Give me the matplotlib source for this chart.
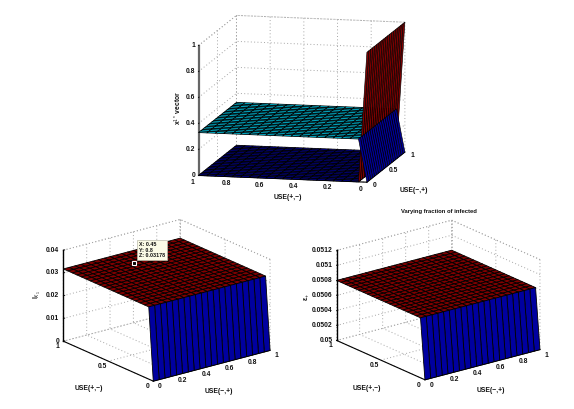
import numpy as np
import matplotlib
matplotlib.use('Agg')
import matplotlib.pyplot as plt
from matplotlib import cm
from mpl_toolkits.mplot3d import proj3d

plt.rcParams['font.family'] = ['Liberation Sans', 'DejaVu Sans']
plt.rcParams['mathtext.fontset'] = 'custom'
plt.rcParams['mathtext.rm'] = 'Liberation Sans'
plt.rcParams['mathtext.it'] = 'Liberation Sans:italic'
plt.rcParams['mathtext.bf'] = 'Liberation Sans:bold'

W_PX, H_PX = 574, 409
GRID = '#a6a6a6'
DOTS = (0, (1, 2.4))
FS = 4.9

# grid of both USE axes
use_pm = [0, 0.05, 0.1, 0.15, 0.2, 0.25, 0.3, 0.35, 0.4, 0.45, 0.5,
          0.55, 0.6, 0.65, 0.7, 0.75, 0.8, 0.85, 0.9, 0.95, 1]
use_mp = [0, 0.05, 0.1, 0.15, 0.2, 0.25, 0.3, 0.35, 0.4, 0.45, 0.5,
          0.55, 0.6, 0.65, 0.7, 0.75, 0.8, 0.85, 0.9, 0.95, 1]

# values along USE(+,-), same for every USE(-,+)
x1_upper = [0, 0.33, 0.33, 0.33, 0.33, 0.33, 0.33, 0.33, 0.33, 0.33, 0.33,
            0.33, 0.33, 0.33, 0.33, 0.33, 0.33, 0.33, 0.33, 0.33, 0.33]
x1_lower = [1, 0, 0, 0, 0, 0, 0, 0, 0, 0, 0,
            0, 0, 0, 0, 0, 0, 0, 0, 0, 0]
left_z = [0, 0.03178, 0.03178, 0.03178, 0.03178, 0.03178, 0.03178, 0.03178, 0.03178, 0.03178, 0.03178,
          0.03178, 0.03178, 0.03178, 0.03178, 0.03178, 0.03178, 0.03178, 0.03178, 0.03178, 0.03178]
right_z = [0.05, 0.0508, 0.0508, 0.0508, 0.0508, 0.0508, 0.0508, 0.0508, 0.0508, 0.0508, 0.0508,
           0.0508, 0.0508, 0.0508, 0.0508, 0.0508, 0.0508, 0.0508, 0.0508, 0.0508, 0.0508]

top_pm_ticks = [0, 0.2, 0.4, 0.6, 0.8, 1]
top_mp_ticks = [0, 0.5, 1]
top_z_ticks = [0, 0.2, 0.4, 0.6, 0.8, 1]
low_pm_ticks = [0, 0.5, 1]
low_mp_ticks = [0, 0.2, 0.4, 0.6, 0.8, 1]
left_z_ticks = [0, 0.01, 0.02, 0.03, 0.04]
right_z_ticks = [0.05, 0.0502, 0.0504, 0.0506, 0.0508, 0.051, 0.0512]


def make_axes(cx, cy, s, sz, elev, azim):
    # place a 3d box so its centre lands on pixel cx, cy with given edge sizes
    k = sz / s
    unit = 1.9057 / np.sqrt(2 + k * k)
    w = s / (unit * 0.5405)
    ax = fig.add_axes([(cx - 0.5135 * w) / W_PX, (H_PX - cy - 0.5135 * w) / H_PX,
                       w / W_PX, w / H_PX], projection='3d', proj_type='ortho',
                      computed_zorder=False)
    ax.set_box_aspect((1, 1, k))
    ax.view_init(elev=elev, azim=azim)
    ax.patch.set_alpha(0)
    return ax


def style_axes(ax, zlim, xticks, yticks, zticks, z_color='black', z_lw=1.0):
    ax.set_xlim(0, 1)
    ax.set_ylim(0, 1)
    ax.set_zlim(*zlim)
    ax.set_xticks(xticks)
    ax.set_yticks(yticks)
    ax.set_zticks(zticks)
    for axis in (ax.xaxis, ax.yaxis, ax.zaxis):
        axis.pane.set_visible(False)
        axis.line.set_color((0, 0, 0, 0))
        axis.set_ticklabels([])
        axis._axinfo['tick']['inward_factor'] = 0
        axis._axinfo['tick']['outward_factor'] = 0
        axis._axinfo['grid'].update(color=GRID, linestyle=DOTS, linewidth=0.7)
    z0, z1 = zlim
    # dotted top of the back walls
    ax.plot([1, 1], [0, 1], [z1, z1], color=GRID, ls=DOTS, lw=0.7, zorder=0)
    ax.plot([0, 1], [1, 1], [z1, z1], color=GRID, ls=DOTS, lw=0.7, zorder=0)
    ax.plot([1, 1], [1, 1], [z0, z1], color=GRID, ls=DOTS, lw=0.7, zorder=0)
    # solid axes
    ax.plot([0, 1], [0, 0], [z0, z0], color='black', lw=0.8, zorder=0.5)
    ax.plot([0, 0], [0, 1], [z0, z0], color='black', lw=0.8, zorder=0.5)
    ax.plot([0, 0], [1, 1], [z0, z1], color=z_color, lw=z_lw, zorder=0.5)
    for t in zticks:
        ax.plot([0, 0.012], [1, 1], [t, t], color='black', lw=0.6, zorder=0.5)


def surface(ax, profile, clim, z_sheet=1, z_wall=3, wall_lw=0.6):
    xx, yy = np.meshgrid(use_mp, use_pm)
    zz = np.tile(np.array(profile)[:, None], (1, len(use_mp)))
    colors = cm.jet((zz - clim[0]) / (clim[1] - clim[0]))
    # flat part with heavy mesh, jump at USE(+,-)=0 with its own mesh width
    ax.plot_surface(xx[1:], yy[1:], zz[1:], rstride=1, cstride=1, facecolors=colors[1:],
                    edgecolor='black', linewidth=0.6, shade=False, zorder=z_sheet)
    ax.plot_surface(xx[:2], yy[:2], zz[:2], rstride=1, cstride=1, facecolors=colors[:2],
                    edgecolor='black', linewidth=wall_lw, shade=False, zorder=z_wall)


def tick_text(ax, x, y, z, s, dx, dy, ha='center'):
    # label placed dx, dy pixels from the projected tick position (dy downwards)
    px, py, _ = proj3d.proj_transform(x, y, z, ax.get_proj())
    ax.annotate(s, xy=(px, py), xycoords='data', xytext=(dx * 0.72, -dy * 0.72),
                textcoords='offset points', fontsize=FS, fontweight='bold', color='#111111',
                ha=ha, va='center', annotation_clip=False)


def px_text(x, y, s, **kw):
    kw.setdefault('fontsize', FS)
    kw.setdefault('color', '#111111')
    kw.setdefault('ha', 'center')
    kw.setdefault('va', 'center')
    kw.setdefault('fontweight', 'bold')
    return fig.text(x / W_PX, 1 - y / H_PX, s, **kw)


def tick_labels(ax, z0, xticks, yticks, zticks, x_off, y_off, z_off):
    for t in zticks:
        tick_text(ax, 0, 1, t, f'{t:g}', z_off, 0, ha='right')
    for t in yticks:
        tick_text(ax, 0, t, z0, f'{t:g}', *y_off)
    for t in xticks:
        tick_text(ax, t, 0, z0, f'{t:g}', *x_off)


fig = plt.figure(figsize=(W_PX / 100, H_PX / 100), dpi=100)

# top panel
ax1 = make_axes(301.7, 98.8, 172.6, 132, 10.3, -167.3)
style_axes(ax1, (0, 1), top_mp_ticks, top_pm_ticks, top_z_ticks, z_color='#666666', z_lw=1.6)
surface(ax1, x1_lower, (-0.02, 1), z_sheet=1, z_wall=3, wall_lw=0.45)
surface(ax1, x1_upper, (-0.02, 1), z_sheet=2, z_wall=4, wall_lw=0.45)
tick_labels(ax1, 0, top_mp_ticks, top_pm_ticks, top_z_ticks, (7.5, 3), (-6, 7), -3)
px_text(288, 197, 'USE(+,−)')
px_text(414, 191, 'USE(−,+)')
px_text(178, 108, r'x$^{1*}$ vector', rotation=90)

# lower left
ax2 = make_axes(166.7, 300.3, 147.4, 96.8, 20, -127.6)
style_axes(ax2, (0, 0.04), low_mp_ticks, low_pm_ticks, left_z_ticks)
surface(ax2, left_z, (-0.00095, 0.03178))
ax2.plot([0.45], [0.8], [0.03178], marker='s', ms=3.2, mfc='black', mec='white', mew=0.8,
         ls='none', zorder=6)
tick_labels(ax2, 0, low_mp_ticks, low_pm_ticks, left_z_ticks, (6, 5.5), (-6, 5.5), -4)
px_text(89, 389, 'USE(+,−)')
px_text(219, 391.5, 'USE(−,+)')
px_text(37, 295, r'I$_{X_1}$', rotation=90)
fig.text(139 / W_PX, 1 - 250 / H_PX, 'X: 0.45\nY: 0.8\nZ: 0.03178', fontsize=3.9, color='#111111',
         fontweight='bold', ha='left', va='center', linespacing=1.2, zorder=10,
         bbox=dict(boxstyle='square,pad=0.4', fc='#fbfbe6', ec='#bbbbaa', lw=0.5))

# lower right
ax3 = make_axes(438.3, 300, 145, 95.8, 20, -127.5)
style_axes(ax3, (0.05, 0.0512), low_mp_ticks, low_pm_ticks, right_z_ticks)
surface(ax3, right_z, (0.05 - 0.000024, 0.0508))
tick_labels(ax3, 0.05, low_mp_ticks, low_pm_ticks, right_z_ticks, (6.3, 5.8), (-6, 5.5), -4)
px_text(366.7, 388, 'USE(+,−)')
px_text(490.7, 390.7, 'USE(−,+)')
px_text(307, 297, r'ε$_{+}$', rotation=90)
px_text(439, 211.7, 'Varying fraction of infected', fontsize=4.2)

fig.savefig('out.png', dpi=100)
